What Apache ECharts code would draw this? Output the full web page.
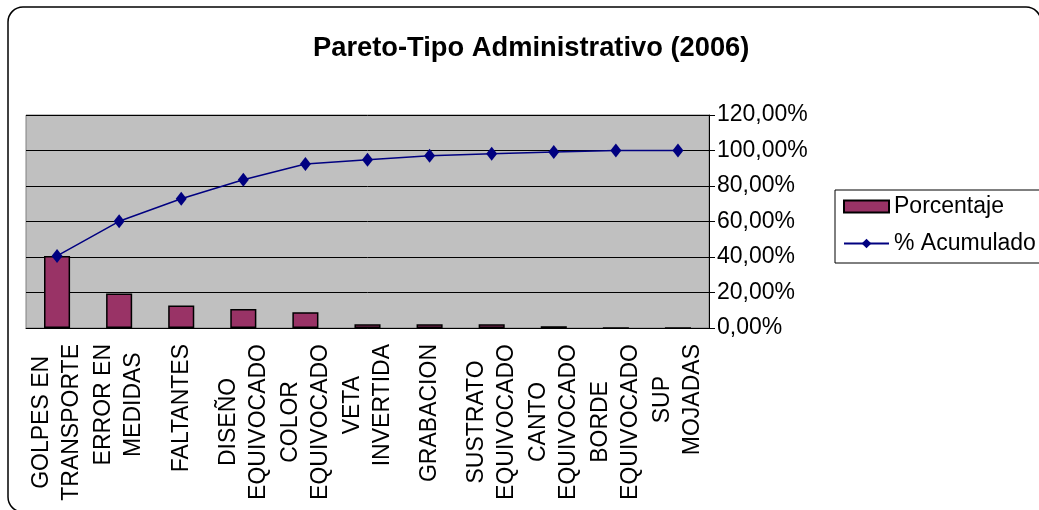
<!DOCTYPE html>
<html>
<head>
<meta charset="utf-8">
<script src="https://cdn.jsdelivr.net/npm/echarts@6/dist/echarts.min.js"></script>
<style>
  html, body { margin: 0; padding: 0; background: #fff; overflow: hidden; }
  #chart { width: 1039px; height: 510px; }
</style>
</head>
<body>
<div id="chart"></div>
<script>
// categories (two-line labels as in the original sheet)
const categorias = [
  'GOLPES EN\nTRANSPORTE',
  'ERROR EN\nMEDIDAS',
  'FALTANTES',
  'DISEÑO\nEQUIVOCADO',
  'COLOR\nEQUIVOCADO',
  'VETA\nINVERTIDA',
  'GRABACION',
  'SUSTRATO\nEQUIVOCADO',
  'CANTO\nEQUIVOCADO',
  'BORDE\nEQUIVOCADO',
  'SUP\nMOJADAS'
]
// values in %
const porcentaje = [40.6, 19.5, 12.7, 10.7, 8.9, 2.1, 2.1, 2.1, 1.0, 0, 0]
const acumulado = [40.6, 60.1, 72.8, 83.5, 92.4, 94.8, 97.0, 98.1, 99.1, 100, 100]

const font = '"Liberation Sans", Arial, sans-serif'
const labelSize = 23

// centre the two lines of each category label on each other (Excel does that)
const ctx = document.createElement('canvas').getContext('2d')
ctx.font = labelSize + 'px "Liberation Sans"'
const richLabels = {}
categorias.forEach((cat, i) => {
  const lines = cat.split('\n')
  const widths = lines.map(s => ctx.measureText(s).width)
  const maxW = Math.max(...widths)
  lines.forEach((s, j) => {
    richLabels['l' + i + '_' + j] = {
      fontFamily: font,
      fontSize: labelSize,
      lineHeight: 30,
      color: '#000',
      padding: [0, (maxW - widths[j]) / 2, 0, 0]
    }
  })
})

const chart = echarts.init(document.getElementById('chart'))

// chart frame: rounded box, its right and bottom edges fall outside the picture
const frameStyle = { fill: 'none', stroke: '#000', lineWidth: 1.5 }
const frame = [
  { type: 'polyline', shape: { points: [[8, 22], [8, 497]] } },
  { type: 'polyline', shape: { points: [[23, 7], [1026, 7]] } },
  { type: 'arc', shape: { cx: 23, cy: 22, r: 15, startAngle: Math.PI, endAngle: Math.PI * 1.5 } },
  { type: 'arc', shape: { cx: 1026, cy: 22, r: 15, startAngle: Math.PI * 1.5, endAngle: Math.PI * 2 } },
  { type: 'arc', shape: { cx: 23, cy: 497, r: 15, startAngle: Math.PI * 0.5, endAngle: Math.PI } }
].map(el => Object.assign(el, { z: -10, silent: true, style: frameStyle }))

const option = {
  animation: false,
  backgroundColor: '#fff',
  textStyle: { fontFamily: font },
  title: {
    text: 'Pareto-Tipo Administrativo (2006)',
    left: 308,
    top: 30,
    textStyle: { fontFamily: font, fontSize: 27.3, fontWeight: 'bold', color: '#000' }
  },
  graphic: frame,
  legend: {
    orient: 'vertical',
    left: 835,
    top: 190,
    padding: [5, 4, 8, 8],
    itemGap: 14,
    itemWidth: 45,
    itemHeight: 12,
    borderColor: '#000',
    borderWidth: 1,
    textStyle: { fontFamily: font, fontSize: 23, color: '#000' },
    data: [
      { name: 'Porcentaje', icon: 'rect' },
      { name: '% Acumulado' }
    ]
  },
  grid: {
    left: 26,
    right: 330,
    top: 115,
    bottom: 182,
    show: true,
    backgroundColor: '#C0C0C0',
    borderColor: '#808080',
    borderWidth: 1
  },
  xAxis: {
    type: 'category',
    data: categorias,
    boundaryGap: true,
    axisLine: { lineStyle: { color: '#000', width: 1 } },
    axisTick: { interval: 0, length: 7, lineStyle: { color: '#000' } },
    axisLabel: {
      interval: 0,
      rotate: 90,
      margin: 16,
      color: '#000',
      fontFamily: font,
      fontSize: labelSize,
      lineHeight: 30,
      formatter: (v, i) => v.split('\n').map((s, j) => '{l' + i + '_' + j + '|' + s + '}').join('\n'),
      rich: richLabels
    }
  },
  yAxis: {
    type: 'value',
    position: 'right',
    min: 0,
    max: 120,
    interval: 20,
    axisLine: { show: true, lineStyle: { color: '#000', width: 1 } },
    axisTick: { show: true, length: 6, lineStyle: { color: '#000' } },
    axisLabel: {
      margin: 8,
      color: '#000',
      fontFamily: font,
      fontSize: 23,
      formatter: v => v + ',00%'
    },
    splitLine: {
      show: true,
      lineStyle: { color: '#000', width: 1 }
    }
  },
  series: [
    {
      name: 'Porcentaje',
      type: 'bar',
      data: porcentaje,
      barWidth: '42%',
      itemStyle: { color: '#993366', borderColor: '#000', borderWidth: 1.5 }
    },
    {
      name: '% Acumulado',
      type: 'line',
      data: acumulado,
      symbol: 'diamond',
      symbolSize: [11, 14],
      color: '#000080',
      lineStyle: { color: '#000080', width: 1.5 },
      itemStyle: { color: '#000080' }
    }
  ]
}

chart.setOption(option)
</script>
</body>
</html>
